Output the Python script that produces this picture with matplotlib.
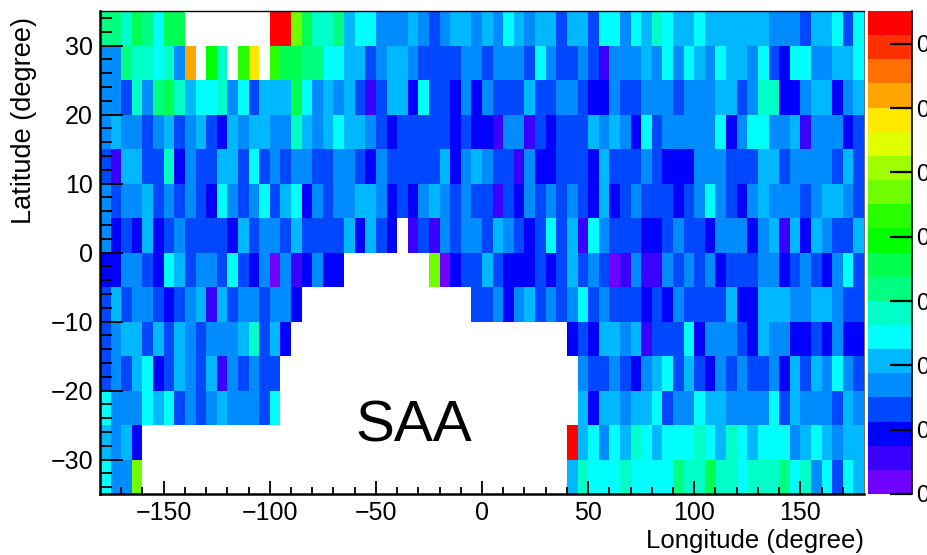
import matplotlib
matplotlib.use("Agg")
import matplotlib.pyplot as plt
from matplotlib.colors import BoundaryNorm, ListedColormap
import numpy as np

plt.rcParams["font.family"] = ["Liberation Sans", "DejaVu Sans"]

E = None
W, H = 927, 555

# colour level (0-19) of each 5x5 degree cell, west to east
lat_m35 = [6, 4, 4, 12] + [E] * 40 + [5, 7, 6, 6, 6, 7, 6, 6, 6, 6, 8, 7, 7, 9, 7, 7, 6, 7, 7, 7, 8, 6, 7, 4, 6, 3, 6, 5]
lat_m30 = [5, 4, 5, 2] + [E] * 40 + [19, 5, 6, 4, 6, 5, 7, 6, 5, 6, 6, 6, 7, 6, 5, 7, 6, 5, 6, 6, 6, 4, 5, 6, 5, 4, 5, 5]
lat_m25 = [6, 4, 4, 4, 6, 5, 6, 3, 4, 3, 4, 5, 4, 4, 4, 3, 6] + [E] * 28 + [5, 2, 5, 5, 4, 5, 5, 6, 3, 4, 4, 6, 5, 5, 4, 4, 4, 4, 6, 3, 5, 4, 4, 4, 3, 5, 4]
lat_m20 = [3, 4, 3, 5, 6, 2, 3, 5, 4, 3, 5, 1, 4, 3, 4, 3, 3] + [E] * 28 + [4, 3, 3, 4, 3, 2, 4, 5, 6, 3, 5, 3, 2, 4, 3, 4, 3, 3, 4, 2, 5, 3, 5, 4, 6, 4, 3]
lat_m15 = [3, 4, 5, 5, 3, 5, 3, 5, 4, 3, 4, 4, 4, 5, 7, 3, 5, 2] + [E] * 26 + [2, 3, 2, 5, 5, 4, 5, 1, 3, 3, 3, 6, 2, 4, 4, 4, 3, 2, 5, 4, 4, 2, 2, 3, 2, 4, 2, 2]
lat_m10 = [3, 5, 3, 4, 4, 3, 2, 3, 4, 5, 1, 5, 3, 4, 4, 3, 4, 4, 2] + [E] * 16 + [3, 3, 4, 2, 4, 5, 3, 4, 3, 4, 6, 3, 4, 3, 3, 3, 2, 3, 2, 4, 3, 3, 3, 3, 5, 2, 2, 5, 5, 5, 4, 4, 5, 5, 4, 3, 3]
lat_m5 = [2, 2, 4, 4, 3, 2, 6, 5, 3, 4, 4, 3, 6, 3, 2, 4, 0, 4, 1, 2, 4, 2, 2] + [E] * 8 + [12, 0, 2, 3, 3, 5, 3, 2, 2, 2, 3, 2, 3, 5, 3, 4, 3, 0, 1, 4, 1, 1, 4, 3, 4, 3, 4, 2, 3, 3, 3, 4, 4, 2, 3, 4, 3, 2, 4, 6, 3]
lat_0 = [4, 2, 3, 2, 5, 2, 3, 4, 3, 3, 3, 3, 2, 5, 3, 4, 4, 3, 5, 3, 3, 3, 3, 5, 2, 5, 3, 2, E, 1, 3, 1, 4, 3, 4, 4, 3, 5, 4, 3, 2, 3, 6, 3, 5, 1, 6, 4, 3, 3, 3, 2, 2, 3, 4, 3, 3, 2, 4, 4, 4, 2, 4, 5, 1, 5, 2, 5, 4, 3, 3, 5]
lat_5 = [4, 3, 4, 4, 5, 3, 4, 3, 4, 3, 2, 6, 4, 3, 4, 6, 3, 5, 6, 2, 4, 3, 4, 4, 5, 5, 4, 2, 3, 2, 4, 5, 4, 3, 4, 3, 3, 1, 3, 2, 4, 3, 4, 3, 4, 3, 2, 5, 2, 3, 4, 3, 3, 3, 2, 3, 4, 6, 4, 3, 2, 4, 5, 4, 4, 4, 3, 4, 5, 5, 4, 3]
lat_10 = [3, 1, 5, 5, 3, 3, 7, 2, 4, 3, 3, 5, 5, 3, 6, 3, 4, 3, 4, 4, 3, 3, 4, 4, 3, 2, 4, 3, 3, 3, 3, 3, 5, 2, 4, 5, 4, 3, 3, 1, 4, 2, 2, 3, 3, 3, 2, 5, 3, 3, 3, 4, 3, 2, 2, 2, 4, 4, 4, 3, 3, 3, 5, 5, 3, 4, 4, 4, 4, 3, 5, 3]
lat_15 = [4, 5, 4, 4, 3, 4, 5, 3, 4, 5, 3, 2, 5, 4, 5, 5, 4, 4, 7, 5, 4, 5, 6, 5, 5, 4, 3, 2, 3, 3, 3, 3, 3, 2, 3, 2, 2, 1, 4, 4, 1, 3, 2, 3, 3, 3, 5, 4, 5, 4, 2, 6, 3, 4, 4, 4, 4, 4, 6, 2, 4, 6, 6, 4, 4, 5, 1, 4, 4, 4, 2, 3]
lat_20 = [4, 4, 3, 7, 4, 8, 9, 7, 5, 6, 6, 7, 4, 6, 3, 5, 5, 5, 9, 6, 4, 5, 4, 5, 3, 1, 3, 5, 5, 2, 6, 3, 3, 2, 4, 2, 4, 3, 3, 3, 5, 3, 3, 4, 4, 3, 2, 2, 4, 3, 3, 4, 4, 4, 3, 4, 4, 4, 5, 5, 3, 4, 7, 7, 2, 2, 4, 5, 5, 2, 4, 5]
lat_25 = [4, 4, 8, 7, 7, 6, 7, 4, 16, E, 10, 7, E, 11, 15, E, 11, 9, 9, 8, 8, 6, 6, 5, 5, 3, 4, 5, 5, 4, 3, 3, 3, 3, 4, 4, 3, 4, 4, 4, 3, 6, 4, 3, 3, 4, 3, 1, 4, 4, 4, 5, 4, 6, 4, 6, 5, 4, 6, 5, 5, 4, 6, 3, 2, 6, 6, 4, 4, 5, 5, 6]
lat_30 = [8, 8, 7, 9, 8, 6, 9, 9] + [E] * 8 + [19, 19, 12, 9, 7, 7, 8, 5, 6, 6, 4, 4, 4, 5, 4, 3, 4, 5, 5, 4, 5, 4, 6, 5, 4, 5, 5, 3, 5, 5, 3, 6, 6, 4, 6, 5, 7, 6, 5, 5, 6, 5, 5, 5, 5, 5, 5, 4, 4, 4, 3, 5, 5, 6, 3, 6]

rows = [lat_m35, lat_m30, lat_m25, lat_m20, lat_m15, lat_m10, lat_m5,
        lat_0, lat_5, lat_10, lat_15, lat_20, lat_25, lat_30]

palette = ["#7000ff", "#3a00ff", "#0000ff", "#0048ff", "#008cff", "#00b8ff", "#00ffff",
           "#00ffc8", "#00ff80", "#00ff50", "#00ff00", "#28ff00", "#70ff00", "#a0ff00",
           "#e0ff00", "#ffe800", "#ffa500", "#ff7000", "#ff3000", "#ff0000"]

z_max = 0.751
z_ticks = [0, 0.1, 0.2, 0.3, 0.4, 0.5, 0.6, 0.7]
z_tick_labels = ["0", "0.1", "0.2", "0.3", "0.4", "0.5", "0.6", "0.7"]

lon_edges = np.arange(-180, 181, 5)
lat_edges = np.arange(-35, 36, 5)
levels = np.array(rows, dtype=float)
step = z_max / len(palette)
z = (levels + 0.5) * step
bounds = np.arange(len(palette) + 1) * step

cmap = ListedColormap(palette)
norm = BoundaryNorm(bounds, cmap.N)


def px_axes(fig, left, top, right, bottom):
    return fig.add_axes([left / W, 1 - bottom / H, (right - left) / W, (bottom - top) / H])


fig = plt.figure(figsize=(W / 100, H / 100), dpi=100)
ax = px_axes(fig, 100, 11, 864, 494)
ax.pcolormesh(lon_edges, lat_edges, np.ma.masked_invalid(z), cmap=cmap, norm=norm,
              antialiased=False, linewidth=0)
ax.set_xlim(-180, 180)
ax.set_ylim(-35, 35)

ax.set_xticks(np.arange(-150, 151, 50))
ax.set_xticks(np.arange(-170, 171, 10), minor=True)
ax.set_yticks(np.arange(-30, 31, 10))
ax.set_yticks(np.arange(-34, 35, 2), minor=True)
ax.tick_params(axis="x", which="major", direction="in", length=9.5, width=1.3, labelsize=18, pad=5)
ax.tick_params(axis="x", which="minor", direction="in", length=5, width=1.3)
ax.tick_params(axis="y", which="major", direction="in", length=16.5, width=1.3, labelsize=18, pad=5)
ax.tick_params(axis="y", which="minor", direction="in", length=8.5, width=1.3)
ax.spines["left"].set_linewidth(1.8)
ax.spines["bottom"].set_linewidth(1.8)
ax.spines["top"].set_linewidth(1.0)
ax.spines["right"].set_linewidth(0.6)
ax.spines["right"].set_color("#555555")

fig.text(864 / W, 1 - 541 / H, "Longitude (degree)", fontsize=18.5, ha="right", va="center")
fig.text(24 / W, 1 - 120 / H, "Latitude (degree)", fontsize=19.5, rotation=90, ha="center", va="center")
ax.text(-32, -25.2, "SAA", fontsize=42, ha="center", va="center")

cax = px_axes(fig, 868, 11, 912, 494)
sm = plt.cm.ScalarMappable(norm=norm, cmap=cmap)
cb = fig.colorbar(sm, cax=cax, spacing="proportional", drawedges=False)
cb.outline.set_visible(False)
cb.set_ticks(z_ticks, labels=z_tick_labels)
cb.ax.minorticks_off()
cb.ax.tick_params(direction="in", length=16, width=1.6, labelsize=17, pad=3, right=True)
cb.ax.axvline(1, color="black", lw=1.2, clip_on=False)

fig.savefig("out.png", dpi=100)
